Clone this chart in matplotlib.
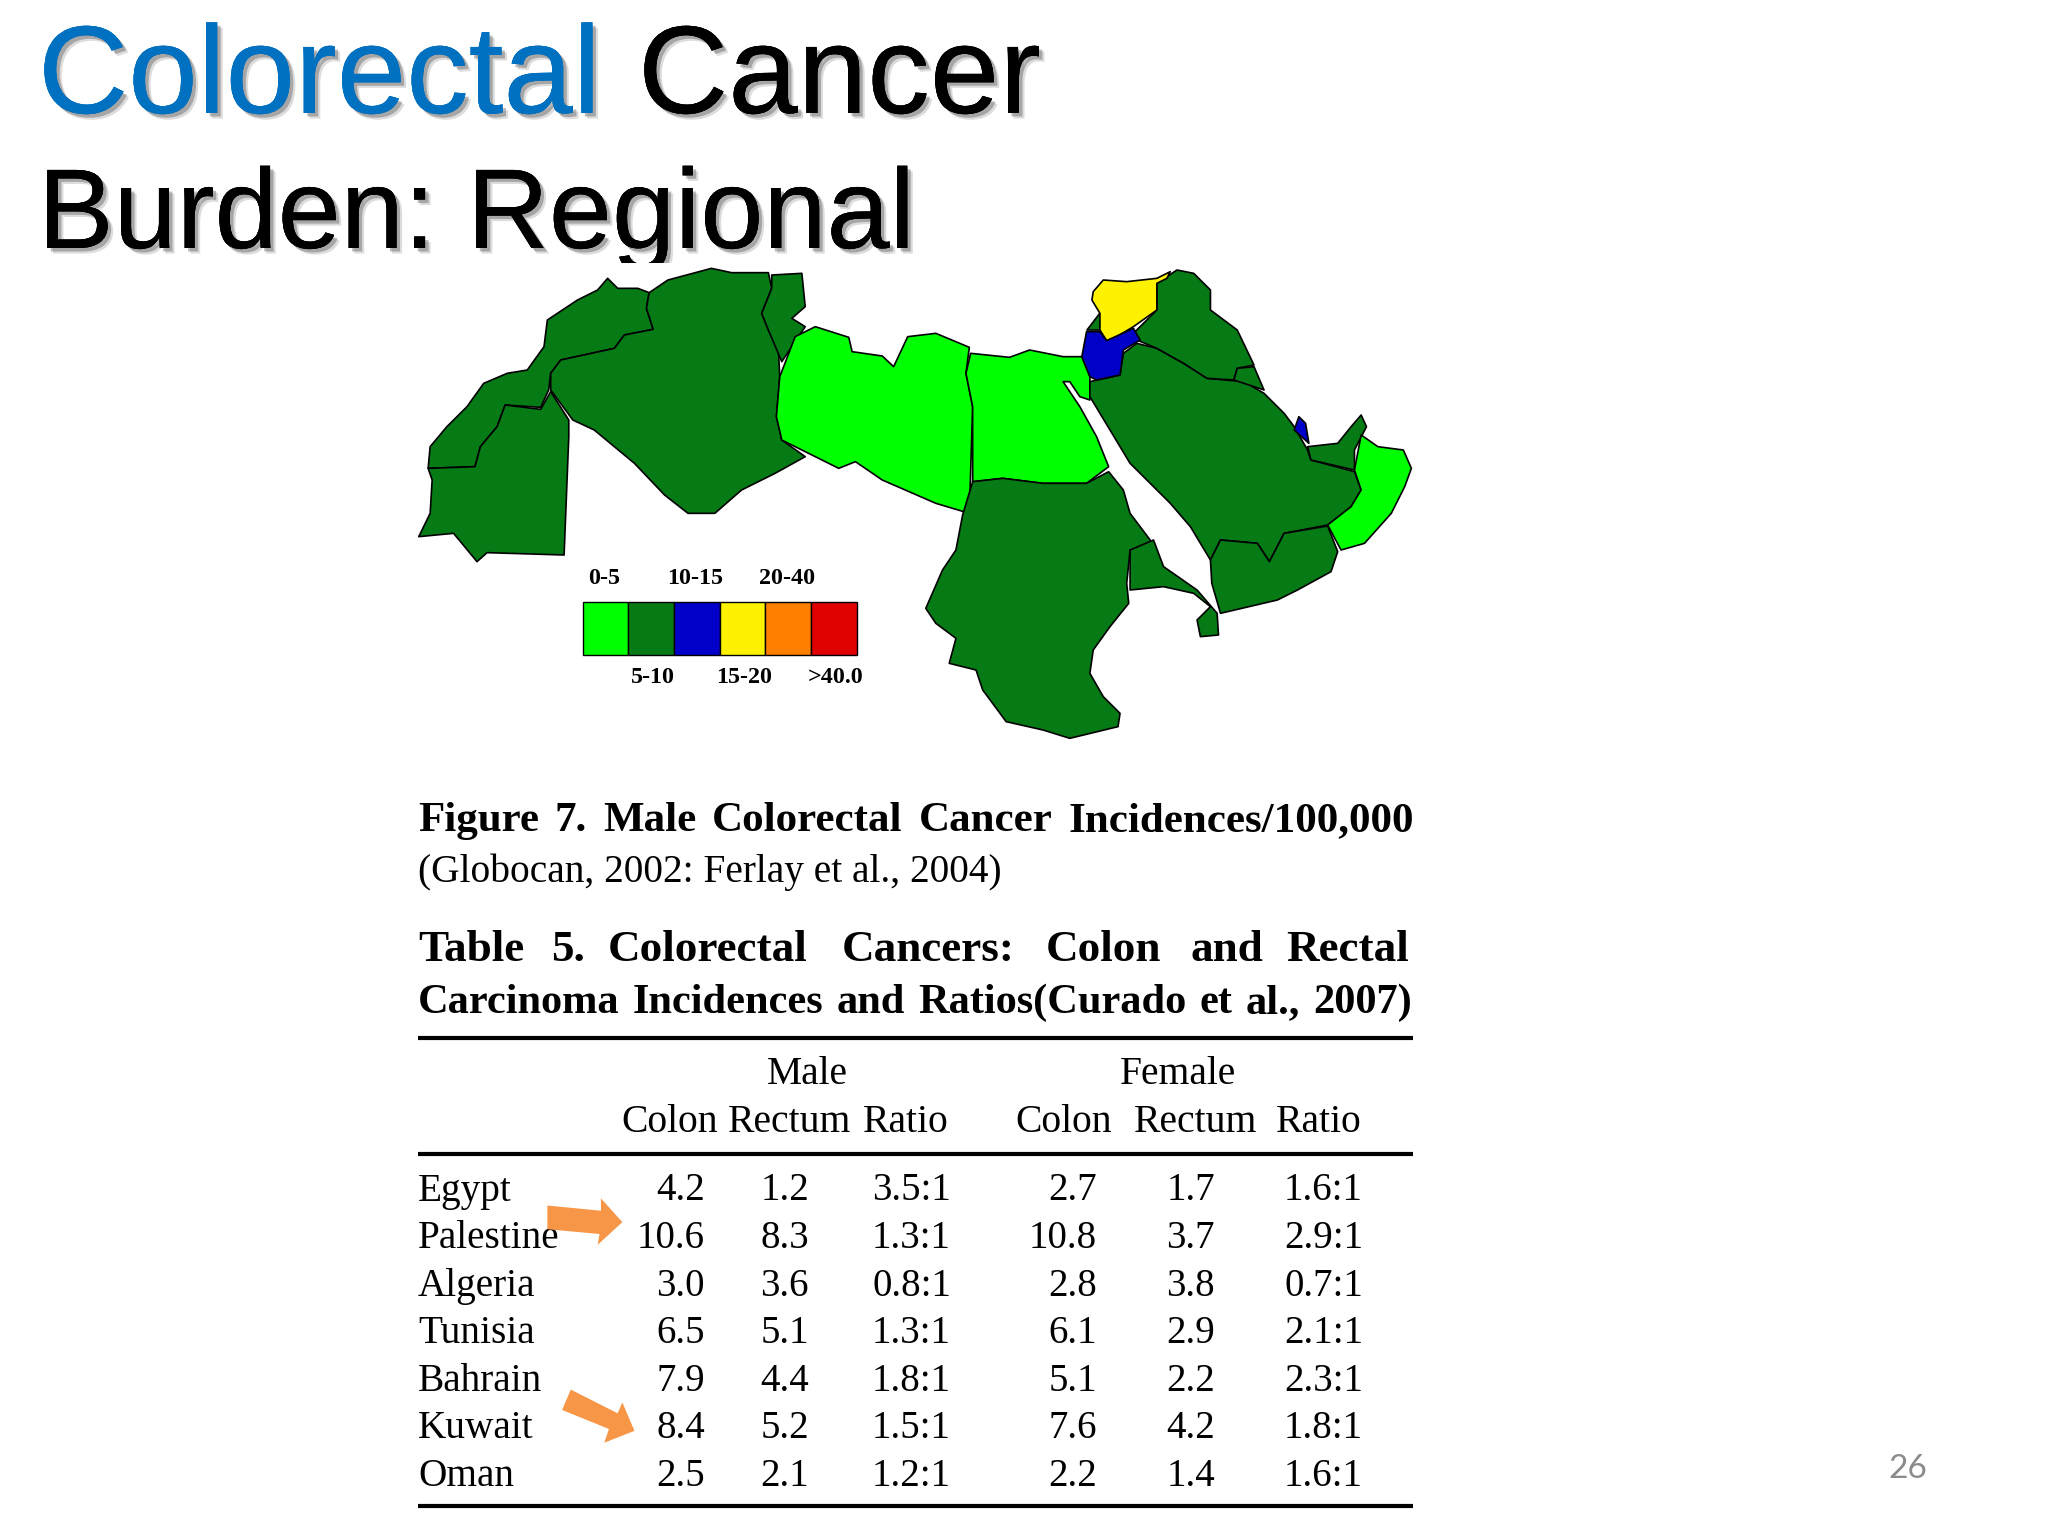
import matplotlib
matplotlib.use("Agg")
import matplotlib.pyplot as plt
import matplotlib.patheffects as pe
from matplotlib.patches import Polygon, Rectangle

# table values
countries = ["Egypt", "Palestine", "Algeria", "Tunisia", "Bahrain", "Kuwait", "Oman"]
male_colon = [4.2, 10.6, 3.0, 6.5, 7.9, 8.4, 2.5]
male_rectum = [1.2, 8.3, 3.6, 5.1, 4.4, 5.2, 2.1]
male_ratio = ["3.5:1", "1.3:1", "0.8:1", "1.3:1", "1.8:1", "1.5:1", "1.2:1"]
female_colon = [2.7, 10.8, 2.8, 6.1, 5.1, 7.6, 2.2]
female_rectum = [1.7, 3.7, 3.8, 2.9, 2.2, 4.2, 1.4]
female_ratio = ["1.6:1", "2.9:1", "0.7:1", "2.1:1", "2.3:1", "1.8:1", "1.6:1"]

legend_labels = ["0-5", "5-10", "10-15", "15-20", "20-40", ">40.0"]
legend_colors = ["#00FF00", "#067A15", "#0000C8", "#FFF200", "#FF8000", "#E00000"]
LIGHT, DARK, BLUE, YELLOW = legend_colors[:4]

morocco = [(310,85),(325,115),(355,115),(372,128),(368,175),(378,238),(335,255),(320,295),(240,330),(225,370),(222,420),(210,472),(157,465),(145,530),(120,590),(112,650),(42,655),(45,590),(70,530),(100,470),(125,400),(160,370),(190,360),(215,290),(220,210),(265,150),(295,120)]
sahara = [(42,655),(112,650),(120,590),(145,530),(157,465),(210,478),(225,425),(252,510),(252,560),(245,915),(130,908),(115,935),(80,850),(28,860),(45,790),(48,690)]
algeria = [(372,128),(400,90),(465,55),(495,68),(550,68),(555,115),(540,190),(550,240),(565,300),(567,380),(562,500),(570,570),(605,620),(560,670),(510,720),(470,790),(430,790),(395,735),(350,640),(290,540),(258,510),(225,420),(225,370),(240,330),(320,295),(335,255),(378,238),(368,175)]
tunisia = [(555,75),(600,70),(605,170),(585,205),(605,230),(570,335),(550,240),(540,190),(555,115)]
libya = [(620,230),(670,262),(675,305),(720,318),(737,350),(758,260),(800,250),(850,292),(845,370),(855,470),(850,790),(800,760),(720,690),(680,635),(655,655),(610,610),(570,570),(562,500),(567,380),(590,260)]
egypt = [(852,310),(910,322),(940,300),(990,320),(1018,320),(1030,380),(1030,450),(1015,440),(1000,395),(990,395),(1015,470),(1040,560),(1058,650),(1025,700),(960,700),(900,685),(855,695),(855,470),(845,370)]
sudan = [(855,695),(900,685),(960,700),(1025,700),(1058,665),(1080,720),(1090,790),(1120,870),(1120,890),(1090,900),(1085,1000),(1088,1060),(1060,1130),(1035,1200),(1030,1270),(1050,1340),(1075,1390),(1072,1430),(1000,1465),(960,1440),(905,1415),(870,1320),(860,1260),(820,1240),(830,1165),(800,1120),(785,1075),(810,960),(830,900),(840,795)]
eritrea = [(1125,870),(1140,950),(1190,1020),(1220,1090),(1222,1155),(1195,1160),(1190,1110),(1210,1070),(1185,1030),(1140,1010),(1090,1020),(1090,900)]
saudi = [(1100,280),(1130,295),(1170,340),(1205,385),(1260,395),(1290,430),(1320,490),(1335,530),(1355,600),(1360,630),(1425,665),(1435,720),(1420,770),(1385,825),(1320,850),(1298,935),(1280,880),(1225,870),(1210,930),(1180,830),(1150,760),(1090,640),(1060,540),(1030,440),(1030,395),(1075,375),(1080,310)]
iraq = [(1160,60),(1185,70),(1210,120),(1210,180),(1250,240),(1275,345),(1250,355),(1245,390),(1205,385),(1170,340),(1130,295),(1100,270),(1095,250),(1130,180),(1130,100)]
kuwait = [(1250,355),(1275,350),(1290,420),(1245,390)]
syria = [(1050,90),(1085,95),(1130,85),(1150,65),(1145,85),(1130,100),(1130,180),(1095,230),(1070,260),(1055,272),(1045,240),(1045,190),(1033,150),(1035,125)]
lebanon = [(1045,190),(1045,240),(1025,240)]
jordan = [(1025,245),(1045,245),(1055,272),(1095,235),(1105,270),(1080,300),(1075,375),(1040,390),(1030,380),(1018,320)]
qatar = [(1342,500),(1352,520),(1357,580),(1335,540)]
uae = [(1435,495),(1443,530),(1425,600),(1425,660),(1360,630),(1355,590),(1400,580),(1420,530)]
oman = [(1435,555),(1460,590),(1498,600),(1510,655),(1500,710),(1480,790),(1440,880),(1405,900),(1385,825),(1420,770),(1435,720),(1425,660)]
yemen = [(1225,870),(1280,880),(1298,935),(1320,850),(1385,828),(1400,905),(1390,965),(1340,1020),(1310,1050),(1225,1090),(1212,1000),(1210,930)]

regions = [
    (morocco, DARK), (sahara, DARK), (algeria, DARK), (tunisia, DARK), (libya, LIGHT),
    (egypt, LIGHT), (sudan, DARK), (eritrea, DARK), (saudi, DARK), (iraq, DARK),
    (kuwait, DARK), (lebanon, DARK), (syria, YELLOW), (jordan, BLUE), (qatar, BLUE),
    (uae, DARK), (oman, LIGHT), (yemen, DARK),
]

SERIF = "Liberation Serif"
SANS = "Liberation Sans"
ORANGE = "#F79646"

fig = plt.figure(figsize=(20.48, 15.36), dpi=100)
ax = fig.add_axes([0, 0, 1, 1])
ax.set_xlim(0, 2048)
ax.set_ylim(1536, 0)
ax.axis("off")


def map_xy(pts):
    return [(400 + x / 1.493, 250 + y / 3.0) for x, y in pts]


def table_xy(pts):
    return [(400 + x / 1.493, 780 + y / 2.108) for x, y in pts]


def justify(words, x0, x1, y, **kw):
    # spread words between x0 and x1 like the justified lines in the paper
    texts = [ax.text(0, y, w, va="baseline", **kw) for w in words]
    fig.canvas.draw()
    inv = ax.transData.inverted()
    widths = []
    for t in texts:
        bb = t.get_window_extent()
        widths.append(inv.transform((bb.x1, 0))[0] - inv.transform((bb.x0, 0))[0])
    gap = (x1 - x0 - sum(widths)) / (len(words) - 1)
    x = x0
    for t, w in zip(texts, widths):
        t.set_x(x)
        x += w + gap


# title, with the slide's soft shadow
shadow = [
    pe.withSimplePatchShadow(offset=(4, -4), shadow_rgbFace="#777777", alpha=0.25),
    pe.withSimplePatchShadow(offset=(2.5, -2.5), shadow_rgbFace="#555555", alpha=0.4),
    pe.Normal(),
]
ax.text(38, 113, "Colorectal", family=SANS, fontsize=90, color="#0070C0", path_effects=shadow, zorder=1)
ax.text(638, 113, "Cancer", family=SANS, fontsize=90, color="black", path_effects=shadow, zorder=1)
ax.text(38, 248, "Burden: Regional", family=SANS, fontsize=81.7, color="black", path_effects=shadow, zorder=1)

# the pasted picture covers the tail of the g
ax.add_patch(Rectangle((418, 263), 1000, 1250, fc="white", ec="none", zorder=2))

for pts, color in regions:
    ax.add_patch(Polygon(map_xy(pts), closed=True, fc=color, ec="black", lw=1.2, joinstyle="round", zorder=3))

# legend
cell_w = 45.7
for i, (label, color) in enumerate(zip(legend_labels, legend_colors)):
    x = 582.5 + i * cell_w
    ax.add_patch(Rectangle((x, 602), cell_w, 53, fc=color, ec="black", lw=1.0, zorder=3))
    y = 584 if i % 2 == 0 else 683
    dx = -1.5 if i % 2 == 0 else 2
    ax.text(x + cell_w / 2 + dx, y, label, family=SERIF, weight="bold", fontsize=17.3, ha="center", va="baseline", zorder=4)

# captions
justify("Figure 7. Male Colorectal Cancer Incidences/100,000".split(), 418, 1414, 831,
        family=SERIF, weight="bold", fontsize=31, zorder=4)
ax.text(418, 882, "(Globocan, 2002: Ferlay et al., 2004)", family=SERIF, fontsize=28.4, zorder=4)
table_words = ["Table", "5.", "Colorectal", "Cancers:", "Colon", "and", "Rectal"]
table_word_x = [418, 551, 608, 842, 1046, 1190, 1286]
for x, word in zip(table_word_x, table_words):
    ax.text(x, 961, word, family=SERIF, weight="bold", fontsize=32.5, zorder=4)
justify("Carcinoma Incidences and Ratios(Curado et al., 2007)".split(), 418, 1412, 1013,
        family=SERIF, weight="bold", fontsize=30.5, zorder=4)

# table
for y in [1038, 1154, 1506]:
    ax.plot([418, 1413], [y, y], color="black", lw=3, solid_capstyle="butt", zorder=4)

ax.text(807, 1084.5, "Male", family=SERIF, fontsize=28.5, ha="center", zorder=4)
ax.text(1178, 1084.5, "Female", family=SERIF, fontsize=28.5, ha="center", zorder=4)
header_x = [670, 790, 906, 1064, 1196, 1319]
header_labels = ["Colon", "Rectum", "Ratio", "Colon", "Rectum", "Ratio"]
for x, label in zip(header_x, header_labels):
    ax.text(x, 1131.5, label, family=SERIF, fontsize=28.5, ha="center", zorder=4)

column_x = [705, 809, 951, 1097, 1215, 1363]
columns = [
    [f"{v:.1f}" for v in male_colon], [f"{v:.1f}" for v in male_rectum], male_ratio,
    [f"{v:.1f}" for v in female_colon], [f"{v:.1f}" for v in female_rectum], female_ratio,
]
for i, country in enumerate(countries):
    y = 1200.5 + i * 47.6
    ax.text(418, y, country, family=SERIF, fontsize=28.3, zorder=4)
    for x, col in zip(column_x, columns):
        ax.text(x, y, col[i], family=SERIF, fontsize=28, ha="right", zorder=4)

# arrows on the table
arrow_top = [(220,897),(300,908),(300,882),(332,932),(295,980),(298,957),(220,947)]
arrow_low = [(255,1285),(325,1335),(332,1312),(350,1372),(305,1397),(312,1368),(242,1328)]
for pts in (arrow_top, arrow_low):
    ax.add_patch(Polygon(table_xy(pts), closed=True, fc=ORANGE, ec="none", zorder=5))

# slide number
ax.text(1908, 1469, "26", family="Lato", fontsize=24, color="#8B8B8B", ha="center", va="center", zorder=4)

fig.savefig("out.png", dpi=100, facecolor="white")
